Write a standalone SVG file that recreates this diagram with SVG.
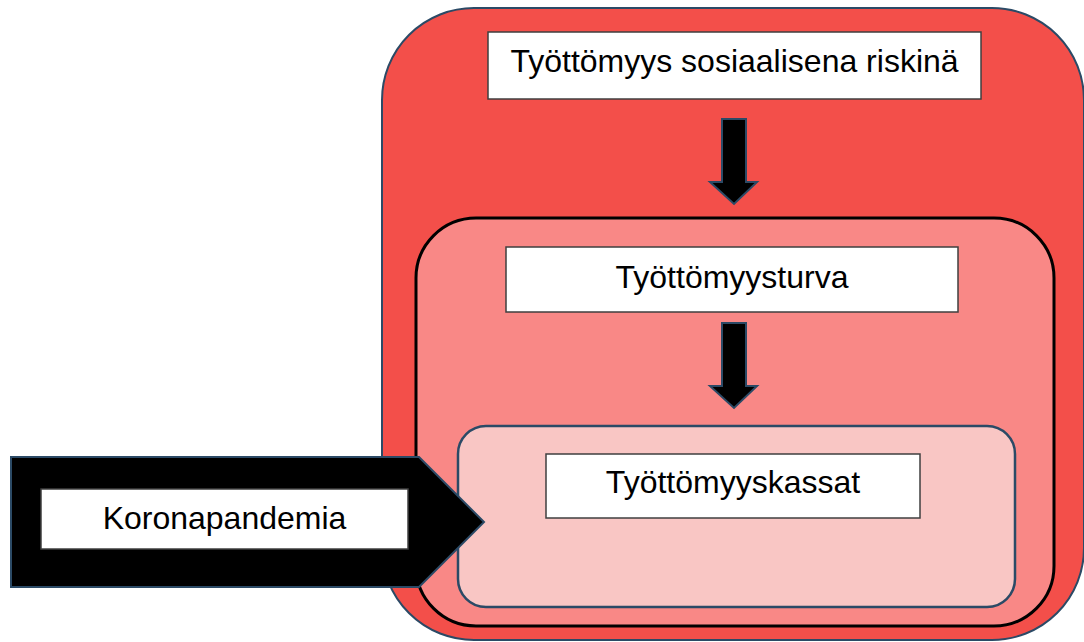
<svg xmlns="http://www.w3.org/2000/svg" width="1084" height="642" viewBox="0 0 1084 642">
<style>
.box{fill:#ffffff;stroke:#3f3f3f;stroke-width:1.5}
.lbl{font-family:"Liberation Sans",Arial,sans-serif;font-size:32px;fill:#000000;text-anchor:middle}
.arr{fill:#000000;stroke:#2b4a66;stroke-width:2;stroke-linejoin:miter}
</style>
<rect width="1084" height="642" fill="#ffffff"/>
<g id="outer">
<rect x="382" y="8" width="702" height="632" rx="92" ry="92" fill="#f34f4a" stroke="#2b4a66" stroke-width="2"/>
</g>
<g id="middle">
<rect x="416" y="218" width="638" height="408" rx="60" ry="60" fill="#f98886" stroke="#000000" stroke-width="3"/>
</g>
<g id="inner">
<rect x="458" y="426" width="557" height="181" rx="28" ry="28" fill="#f9c6c4" stroke="#2b4a66" stroke-width="2.5"/>
</g>
<g id="connectors">
<polygon class="arr" points="722,119 746,119 746,182 757,182 734,204 710,182 722,182"/>
<polygon class="arr" points="722,323 746,323 746,386 757,386 734,408 710,386 722,386"/>
<polygon class="arr" points="11,457 419,457 484,522 419,587 11,587"/>
</g>
<g id="node-riski">
<rect class="box" x="488" y="32" width="493" height="67"/>
<text class="lbl" x="734.5" y="72">Työttömyys sosiaalisena riskinä</text>
</g>
<g id="node-turva">
<rect class="box" x="506" y="247" width="452" height="65"/>
<text class="lbl" x="732" y="288">Työttömyysturva</text>
</g>
<g id="node-kassat">
<rect class="box" x="546" y="454" width="374" height="64"/>
<text class="lbl" x="733" y="493">Työttömyyskassat</text>
</g>
<g id="node-korona">
<rect class="box" x="41" y="489" width="367" height="60" stroke="#555555"/>
<text class="lbl" x="224.5" y="529">Koronapandemia</text>
</g>
</svg>
